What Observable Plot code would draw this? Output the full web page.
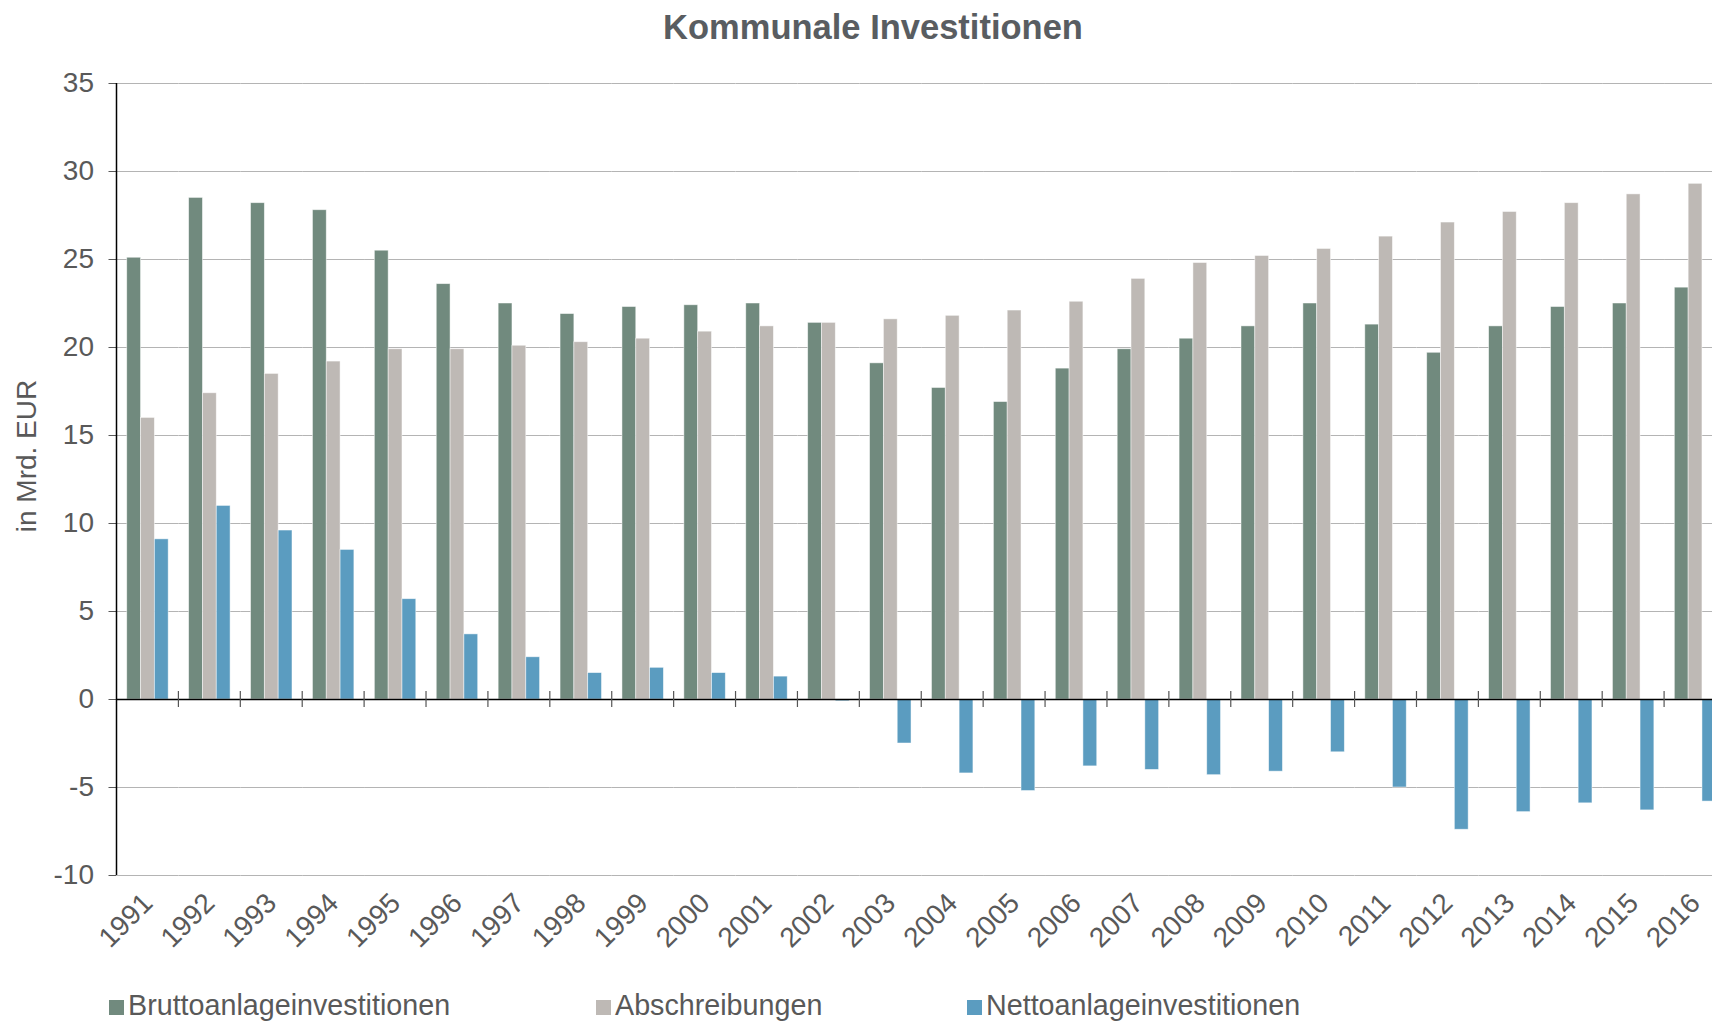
<!DOCTYPE html>
<html>
<head>
<meta charset="utf-8">
<script src="https://cdn.jsdelivr.net/npm/d3@7"></script>
<script src="https://cdn.jsdelivr.net/npm/@observablehq/plot@0.6"></script>
<style>
  html, body { margin: 0; padding: 0; background: #fff; overflow: hidden; width: 1712px; height: 1022px; }
  body { position: relative; font-family: "Liberation Sans", Arial, sans-serif; color: #595959; }
  #title { position: absolute; left: 0; width: 1746px; top: 7px; text-align: center; font-weight: bold;
           font-size: 34.5px; line-height: 40px; color: #595d61; }
  #chart { position: absolute; left: 0; top: 52px; }
  #ylabel { position: absolute; left: 27px; top: 456px; transform: translate(-50%, -50%) rotate(-90deg);
            font-size: 28px; line-height: 32px; white-space: nowrap; color: #595959; }
  .legend-item { position: absolute; top: 989px; font-size: 28.7px; line-height: 32px; white-space: nowrap; color: #595959; }
  .swatch { display: inline-block; width: 15px; height: 15px; margin-right: 4px; vertical-align: baseline; }
  svg [aria-label="y-axis tick"] { stroke: #8c8c8c; }
</style>
</head>
<body>
<div id="title">Kommunale Investitionen</div>
<div id="ylabel">in Mrd. EUR</div>
<div id="chart"></div>
<div id="legend"></div>
<script>
const years = ["1991","1992","1993","1994","1995","1996","1997","1998","1999","2000","2001","2002","2003",
               "2004","2005","2006","2007","2008","2009","2010","2011","2012","2013","2014","2015","2016"];
const seriesNames = ["Bruttoanlageinvestitionen", "Abschreibungen", "Nettoanlageinvestitionen"];
const seriesColors = ["#718a7e", "#beb9b5", "#5b9cc0"];
const brutto = [25.1, 28.5, 28.2, 27.8, 25.5, 23.6, 22.5, 21.9, 22.3, 22.4, 22.5, 21.4, 19.1,
                17.7, 16.9, 18.8, 19.9, 20.5, 21.2, 22.5, 21.3, 19.7, 21.2, 22.3, 22.5, 23.4];
const abschreibungen = [16.0, 17.4, 18.5, 19.2, 19.9, 19.9, 20.1, 20.3, 20.5, 20.9, 21.2, 21.4, 21.6,
                        21.8, 22.1, 22.6, 23.9, 24.8, 25.2, 25.6, 26.3, 27.1, 27.7, 28.2, 28.7, 29.3];
const netto = [9.1, 11.0, 9.6, 8.5, 5.7, 3.7, 2.4, 1.5, 1.8, 1.5, 1.3, -0.1, -2.5,
               -4.2, -5.2, -3.8, -4.0, -4.3, -4.1, -3.0, -5.0, -7.4, -6.4, -5.9, -6.3, -5.8];
const yTicks = [-10, -5, 0, 5, 10, 15, 20, 25, 30, 35];

const seriesValues = [brutto, abschreibungen, netto];
const data = years.flatMap((yr, i) => seriesNames.map((s, k) => ({year: yr, series: s, value: seriesValues[k][i]})));

const plot = Plot.plot({
  width: 1726,
  height: 928,
  marginLeft: 116.5,
  marginRight: 0,
  marginTop: 31,
  marginBottom: 105,
  style: {fontFamily: "'Liberation Sans', Arial, sans-serif", fontSize: "28px", color: "#595959",
          background: "transparent", maxWidth: "none", overflow: "visible"},
  facet: {data, x: "year"},
  fx: {domain: years, padding: 0, round: false, label: null, axis: "bottom",
       tickRotate: -45, tickSize: 0, tickPadding: 23},
  x: {domain: seriesNames, axis: null, paddingInner: 0, paddingOuter: 0.74, round: false},
  y: {domain: [-10, 35], ticks: yTicks, tickSize: 8, tickPadding: 15, label: null, tickFormat: d => String(d)},
  color: {domain: seriesNames, range: seriesColors},
  marks: [
    Plot.ruleY(yTicks, {stroke: "#b4b4b4", strokeWidth: 1.2}),
    Plot.barY(data, {x: "series", y: "value", fill: "series", stroke: "#ffffff", strokeWidth: 0.8, strokeOpacity: 0.6}),
    Plot.ruleY([0], {stroke: "#000000", strokeWidth: 1.5})
  ]
});
document.getElementById("chart").appendChild(plot);

// axis line and category boundary ticks, from the library's scales
const svg = d3.select(plot);
const yS = plot.scale("y");
let bandStart, step;
try {
  const fxS = plot.scale("fx");
  bandStart = v => fxS.apply(v);
  step = fxS.step || fxS.bandwidth;
} catch (e) {
  step = (1726 - 116.5) / years.length;
  bandStart = v => 116.5 + years.indexOf(v) * step;
}
const y0 = yS.apply(0);
const tg = svg.append("g");
years.forEach((yr, i) => {
  if (i === 0) return;
  const xp = bandStart(yr);
  tg.append("line").attr("x1", xp).attr("x2", xp).attr("y1", y0 - 8).attr("y2", y0 + 8)
    .attr("stroke", "#555").attr("stroke-width", 1.2);
});
const xAxis = bandStart(years[0]);
svg.append("line").attr("x1", xAxis).attr("x2", xAxis).attr("y1", yS.apply(35)).attr("y2", yS.apply(-10))
  .attr("stroke", "#000").attr("stroke-width", 1.5);

// legend
const legendLefts = [109, 596, 967];
const legend = document.getElementById("legend");
seriesNames.forEach((s, k) => {
  const item = document.createElement("div");
  item.className = "legend-item";
  item.style.left = legendLefts[k] + "px";
  item.innerHTML = `<span class="swatch" style="background:${seriesColors[k]}"></span>${s}`;
  legend.appendChild(item);
});
</script>
</body>
</html>
